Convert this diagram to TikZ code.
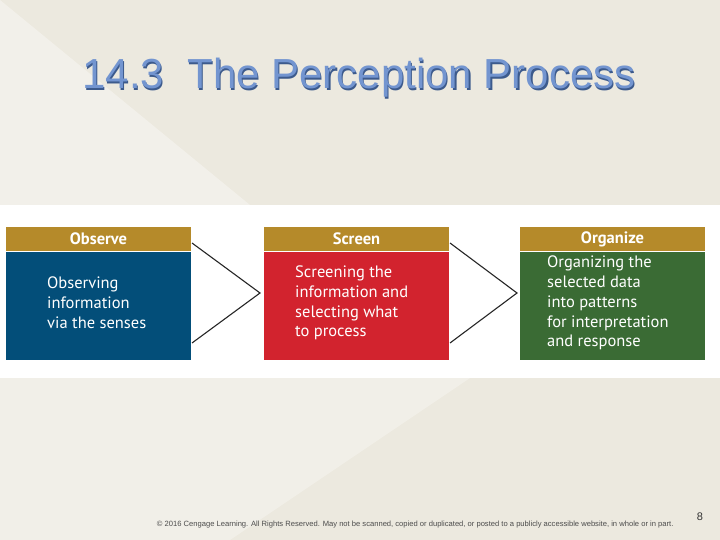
\documentclass[tikz,border=0pt]{standalone}
\usepackage{fontspec}
\setmainfont{Liberation Sans}
\newfontfamily\boxfont{PT Sans}
\begin{document}
\begin{tikzpicture}[x=1pt,y=-1pt,
  hdr/.style={fill=hdrcol,draw=white,line width=1pt,text=white,font=\boxfont\bfseries\fontsize{16.5}{18}\selectfont,minimum width=186,minimum height=25,anchor=north west},
  bdy/.style={draw=white,line width=1pt,minimum width=186,minimum height=109,anchor=north west},
  btxt/.style={text=white,font=\boxfont\fontsize{16.5}{19.8}\selectfont,align=left,anchor=west,inner sep=0pt},
  ttlfont/.style={font=\fontsize{42}{46}\selectfont},
  chev/.style={line width=1.1pt,black!85}]
\definecolor{bg}{HTML}{ECE9DF}
\definecolor{hdrcol}{HTML}{B58A2A}
\definecolor{obs}{HTML}{034E79}
\definecolor{scr}{HTML}{D2232E}
\definecolor{org}{HTML}{3A6B34}
\definecolor{ttl}{HTML}{7395D0}
\definecolor{ttldark}{HTML}{3C5A8C}
\useasboundingbox (0,0) rectangle (720,540);
\fill[bg] (0,0) rectangle (720,540);
\fill[white,opacity=0.35] (0,0) -- (250,205) -- (0,205) -- cycle;
\fill[white,opacity=0.3] (0,378) -- (470,378) -- (230,540) -- (0,540) -- cycle;
\fill[white] (0,205) rectangle (720,378);
\node[ttlfont,text=ttldark] (titleshadow) at (360.2,79.2) {14.3\ \ The Perception Process};
\node[ttlfont,text=ttl] (title) at (359,78) {14.3\ \ The Perception Process};
% boxes
\node[hdr] (h1) at (5,226) {Observe};
\node[bdy,fill=obs] (b1) at (5,251) {};
\node[btxt] (t1x) at (47,303) {Observing\\information\\via the senses};
\node[hdr] (h2) at (263,226) {Screen};
\node[bdy,fill=scr] (b2) at (263,251) {};
\node[btxt] (t2x) at (295,303) {Screening the\\information and\\selecting what\\to process};
\node[hdr] (h3) at (519,226) {Organize};
\node[bdy,fill=org] (b3) at (519,251) {};
\node[btxt] (t3x) at (547,303) {Organizing the\\selected data\\into patterns\\for interpretation\\and response};
\coordinate (t1) at (260,293); \coordinate (t2) at (517,293);
\draw[chev] (192,243) -- (t1) -- (192,343);
\draw[chev] (450,243) -- (t2) -- (450,343);
\node[anchor=base east,font=\fontsize{7.6}{8}\selectfont,text=black!70] (foot) at (677,526)
 {\textcopyright{} 2016 Cengage Learning. All Rights Reserved. May not be scanned, copied or duplicated, or posted to a publicly accessible website, in whole or in part.};
\node[anchor=base,font=\fontsize{11}{12}\selectfont,text=black!80] (pg) at (700,520) {8};
\end{tikzpicture}
\end{document}
